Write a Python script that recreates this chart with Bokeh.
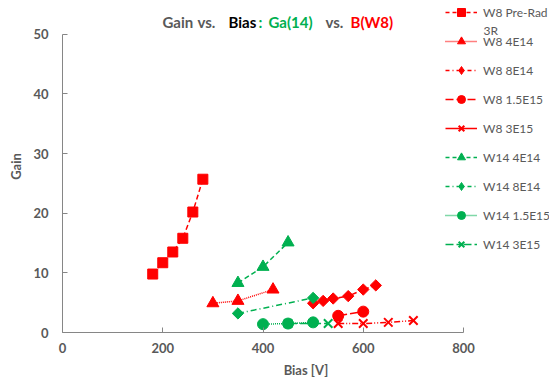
import math

from bokeh.embed import file_html
from bokeh.models import FixedTicker, Label, Legend, LegendItem, Range1d
from bokeh.plotting import figure
from bokeh.resources import INLINE

# ---- measurements: bias voltage [V] and gain per sample / fluence ----
bias_w8_prerad = [180, 200, 220, 240, 260, 280]
gain_w8_prerad = [9.8, 11.7, 13.5, 15.8, 20.2, 25.7]

bias_w8_4e14 = [300, 350, 420]
gain_w8_4e14 = [4.9, 5.3, 7.2]

bias_w8_8e14 = [500, 520, 540, 570, 600, 625]
gain_w8_8e14 = [4.9, 5.3, 5.7, 6.1, 7.2, 7.9]

bias_w8_15e15 = [550, 600]
gain_w8_15e15 = [2.8, 3.5]

bias_w8_3e15 = [550, 600, 650, 700]
gain_w8_3e15 = [1.5, 1.5, 1.7, 2.0]

bias_w14_4e14 = [350, 400, 450]
gain_w14_4e14 = [8.3, 11.0, 15.1]

bias_w14_8e14 = [350, 500]
gain_w14_8e14 = [3.2, 5.8]

bias_w14_15e15 = [400, 450, 500]
gain_w14_15e15 = [1.4, 1.5, 1.7]

bias_w14_3e15 = [450, 530]
gain_w14_3e15 = [1.5, 1.5]

series_labels = ["W8 Pre-Rad", "W8 4E14", "W8 8E14", "W8 1.5E15", "W8 3E15",
                 "W14 4E14", "W14 8E14", "W14 1.5E15", "W14 3E15"]

x_ticks = [0, 200, 400, 600, 800]
y_ticks = [0, 10, 20, 30, 40, 50]

title_words = ["Gain", "vs.", "Bias", ":", "Ga(14)", "vs.", "B(W8)"]

# ---- styling ----
RED = "#FF0000"
GREEN = "#00B050"
GREY = "#595959"
AXIS = "#868686"
FONT = "Lato"

W, H = 549, 380
LEFT, BOTTOM = 62, 46
FRAME_W, FRAME_H = W - LEFT, H - BOTTOM

# The frame spans the whole canvas above/right of the axes so that the
# title and legend share its space; the axes themselves stop at 800 / 50.
PX_PER_V = 401 / 800
PX_PER_GAIN = 300 / 50
X_MAX = FRAME_W / PX_PER_V
Y_MAX = FRAME_H / PX_PER_GAIN


def to_x(px):
    return (px - LEFT) / PX_PER_V


def to_y(py):
    return (FRAME_H - py) / PX_PER_GAIN


p = figure(width=W, height=H, output_backend="svg", toolbar_location=None,
           x_range=Range1d(0, X_MAX), y_range=Range1d(0, Y_MAX),
           min_border_left=LEFT, min_border_right=0,
           min_border_top=0, min_border_bottom=BOTTOM)
p.outline_line_color = None
p.grid.visible = False
p.background_fill_color = "white"
p.border_fill_color = "white"

for ax in (p.xaxis[0], p.yaxis[0]):
    ax.axis_line_color = AXIS
    ax.axis_line_width = 1
    ax.major_tick_line_color = AXIS
    ax.major_tick_in = 5
    ax.major_tick_out = 0
    ax.minor_tick_line_color = None
    ax.major_label_text_font = FONT
    ax.major_label_text_font_size = "13px"
    ax.major_label_text_font_style = "bold"
    ax.major_label_text_color = GREY
    ax.axis_label_text_font = FONT
    ax.axis_label_text_font_size = "13px"
    ax.axis_label_text_font_style = "bold"
    ax.axis_label_text_color = GREY

p.xaxis.ticker = FixedTicker(ticks=x_ticks)
p.yaxis.ticker = FixedTicker(ticks=y_ticks)
p.xaxis.bounds = (x_ticks[0], x_ticks[-1])
p.yaxis.bounds = (y_ticks[0], y_ticks[-1])
p.xaxis.axis_label = "Bias [V]"
p.yaxis.axis_label = "Gain"
p.xaxis.major_label_standoff = 10
p.yaxis.major_label_standoff = 14
p.xaxis.axis_label_standoff = 6
p.yaxis.axis_label_standoff = 6

DIAMOND = math.pi / 4
# (x, y, colour, marker, dash, marker size, marker angle, legend marker)
styles = [
    (bias_w8_prerad, gain_w8_prerad, RED, "square", "5 3", 10, 0, "square"),
    (bias_w8_4e14, gain_w8_4e14, RED, "triangle", "1 1", 12, 0, "triangle"),
    (bias_w8_8e14, gain_w8_8e14, RED, "square", "6 3 1 3", 8, DIAMOND, "diamond"),
    (bias_w8_15e15, gain_w8_15e15, RED, "circle", "9 3", 11, 0, "circle"),
    (bias_w8_3e15, gain_w8_3e15, RED, "x", "6 2 1 2 1 2", 12, 0, "x"),
    (bias_w14_4e14, gain_w14_4e14, GREEN, "triangle", "5 3", 12, 0, "triangle"),
    (bias_w14_8e14, gain_w14_8e14, GREEN, "square", "6 3 1 3", 8, DIAMOND, "diamond"),
    (bias_w14_15e15, gain_w14_15e15, GREEN, "circle", "1 1", 11, 0, "circle"),
    (bias_w14_3e15, gain_w14_3e15, GREEN, "x", "9 3", 12, 0, "x"),
]

# legend sample lines use the Excel-like pattern of each series
legend_dashes = ["4 3", "1 1", "4 3 1 3", "8 3", "solid",
                 "4 3", "4 3 1 3", "1 1", "8 3 4 3"]

# legend-only glyphs get one NaN point so they draw nothing in the frame
NO_DATA = [float("nan")]

items = []
for label, style, ldash in zip(series_labels, styles, legend_dashes):
    xs, ys, color, marker, dash, size, angle, lmarker = style
    p.line(xs, ys, line_color=color, line_width=1.5, line_dash=dash)
    p.scatter(xs, ys, marker=marker, size=size, angle=angle,
              fill_color=color, line_color=color,
              line_width=2 if marker == "x" else 1)
    # un-rotated marker samples for the legend
    key_line = p.line(NO_DATA, NO_DATA, line_color=color, line_width=1.5, line_dash=ldash)
    key_mark = p.scatter(NO_DATA, NO_DATA, marker=lmarker, size=8,
                         fill_color=color, line_color=color,
                         line_width=2 if lmarker == "x" else 1)
    items.append(LegendItem(label=label, renderers=[key_line, key_mark]))

ITEM_H, ITEM_GAP = 28, 1
legend_h = len(items) * ITEM_H + (len(items) - 1) * ITEM_GAP
# legend location is the bottom-left corner, measured from the frame's bottom-left;
# the glyph box height sets the sample marker size
legend = Legend(items=items, location=(445 - LEFT, FRAME_H - legend_h),
                orientation="vertical", padding=0, margin=0, spacing=ITEM_GAP,
                glyph_width=32, glyph_height=20, label_height=ITEM_H,
                label_standoff=6, label_text_font=FONT,
                label_text_font_size="12px", label_text_color=GREY,
                background_fill_alpha=0, border_line_color=None)
p.add_layout(legend, "center")

# second line of the first legend entry
p.add_layout(Label(x=to_x(483), y=to_y(30), text="3R", text_font=FONT,
                   text_font_size="12px", text_color=GREY,
                   text_baseline="middle", text_align="left"))

# multi-coloured chart title, one word at a time
title_colors = [GREY, GREY, "#000000", GREEN, GREEN, GREY, RED]
title_left = [162, 197, 228, 258, 268, 325, 350]
for word, color, left in zip(title_words, title_colors, title_left):
    p.add_layout(Label(x=to_x(left), y=to_y(22), text=word, text_font=FONT,
                       text_font_size="15px", text_font_style="bold",
                       text_color=color, text_baseline="middle",
                       text_align="left"))

open("out.html", "w").write(file_html(p, INLINE))
